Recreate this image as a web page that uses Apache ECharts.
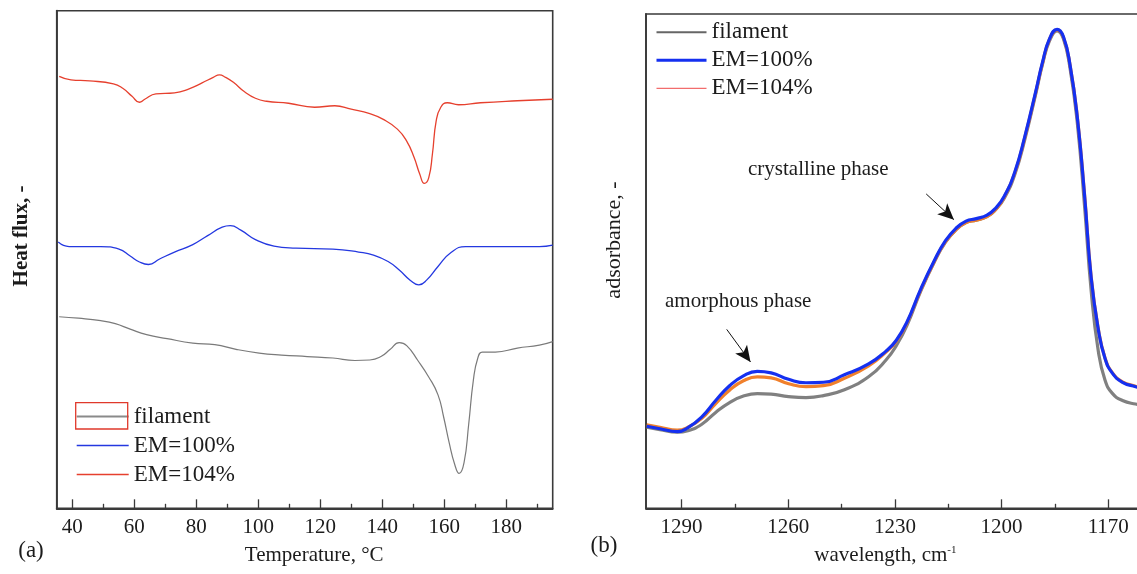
<!DOCTYPE html>
<html><head><meta charset="utf-8">
<script src="https://cdn.jsdelivr.net/npm/echarts@6/dist/echarts.min.js"></script>
<style>html,body{margin:0;padding:0;background:#fff}#c{width:1137px;height:574px}</style>
</head><body><div id="c"></div>
<script>
// ---------- Panel (a): DSC ----------
const dscTempTicks = [40, 60, 80, 100, 120, 140, 160, 180];
const dscTempMinorTicks = [50, 70, 90, 110, 130, 150, 170, 190];

const dscFilamentT = [35.8,42,49.2,53.9,58.7,64,70.6,78.9,86,93.2,100.3,107.5,115.8,124.1,131.2,136,139.6,142.5,145.5,147.9,151.5,155,158,159.8,161.6,163.4,164.8,166.4,167.9,169.4,170.8,172.3,176.5,183.6,190.7,195];
const dscFilamentHF = [38.5,38.2,37.7,37.1,36.0,34.9,34.1,33.2,32.9,31.9,31.2,30.8,30.5,30.2,29.7,29.8,30.5,31.9,33.3,32.7,29.7,26.4,22.8,18.4,13.2,8.8,7.0,9.2,16.9,25.7,30.1,31.4,31.4,32.2,32.8,33.5];

const dscEM100T = [35.5,39,49.2,55.1,58.7,61.7,64.6,68.2,73,78.9,83.7,88.4,91,94.4,99.1,105.1,112.2,124.1,132.4,137.2,141.9,145.5,149.1,151.8,154.4,158,162.2,166.9,177.6,190.7,195];
const dscEM100HF = [53.5,52.6,52.6,52.1,50.7,49.5,49.0,50.1,51.5,53.0,54.8,56.5,56.8,55.9,54.0,52.7,52.3,52.1,51.5,50.9,49.6,47.9,45.8,44.9,45.9,48.6,51.4,52.6,52.6,52.6,52.9];

const dscEM104T = [35.8,39.6,45.6,53.3,56.3,59.3,61.7,63.4,67,73,77.7,81.9,85.5,87.5,89.5,92,95.6,99.1,102.7,109.8,118.2,124.7,130,136,140.2,144.9,147.9,150.3,152.1,153.6,155,156.2,157.4,158.9,161,164.6,171.7,183.6,195];
const dscEM104HF = [86.8,86.1,85.9,85.3,84.4,82.8,81.6,82.2,83.3,83.5,84.3,85.5,86.6,87.1,86.6,85.6,83.7,82.4,81.8,81.4,80.6,80.9,80.2,79.3,78.2,76.2,73.8,70.5,67.2,65.3,66.4,71.2,77.8,80.6,81.5,81.1,81.5,81.9,82.2];

// ---------- Panel (b): FTIR ----------
const ftirTicks = [1170, 1200, 1230, 1260, 1290];
const ftirMinorTicks = [1185, 1215, 1245, 1275];

const ftirWn = [1299.8,1296.1,1291.2,1288.2,1284.3,1280.4,1276.5,1272.6,1268.7,1264.8,1259.9,1255.0,1250.1,1244.2,1237.4,1232.5,1229.6,1226.6,1222.7,1218.8,1215.9,1212.9,1210.0,1207.1,1204.1,1201.7,1199.2,1196.3,1193.4,1190.4,1188.5,1186.5,1184.4,1182.6,1180.7,1178.7,1176.7,1174.8,1172.8,1170.9,1168.9,1166.0,1162.3,1159];
const ftirEM100 = [16.6,16.1,15.5,16.3,18.5,21.8,24.8,26.8,27.7,27.4,26.1,25.4,25.5,27.0,29.2,31.8,34.0,37.7,44.4,50.3,54.0,56.6,58.1,58.6,59.3,60.7,63.2,68.0,75.4,84.3,90.2,95.0,96.9,95.4,89.5,79.1,63.6,46.6,36.2,30.3,27.4,25.5,24.6,24.0];
const ftirEM104 = [16.9,16.4,15.8,16.4,18.2,21.2,23.9,25.8,26.6,26.4,25.2,24.6,24.8,26.3,28.8,31.6,33.8,37.5,44.2,50.1,53.8,56.3,57.8,58.3,59.0,60.4,63.0,67.8,75.2,84.1,90.0,94.9,96.8,95.3,89.5,79.2,63.8,46.8,36.3,30.4,27.5,25.6,24.7,24.1];
const ftirFilament = [16.4,15.9,15.4,15.7,17.0,19.4,21.4,22.7,23.2,23.1,22.6,22.4,22.8,24.0,26.6,30.0,32.9,37.0,44.0,50.0,53.7,56.3,57.8,58.3,59.0,60.4,62.8,67.5,74.8,83.8,89.8,94.6,96.6,95.0,88.8,78.0,61.5,44.0,31.8,25.9,23.3,21.8,21.1,20.8];

const crystallineArrow = [[1221.2, 63.6], [1213.4, 58.4]];
const amorphousArrow = [[1277.3, 36.2], [1270.6, 29.6]];

const pair = (xs, ys) => xs.map((x, i) => [x, ys[i]]);
const FONT = '"Liberation Serif", "Times New Roman", serif';
const AX = '#3a3a3a';
const TXT = '#1c1c1c';

function baseX(gridIndex, min, max, ticks, inverse, name, nameGap, namePad) {
  return {
    type: 'value', gridIndex, min, max, inverse, position: 'bottom',
    name, nameLocation: 'middle', nameGap,
    nameTextStyle: { fontFamily: FONT, fontSize: 21, color: TXT, padding: namePad,
      rich: { sup: { fontFamily: FONT, fontSize: 11, color: TXT, verticalAlign: 'top', padding: [0, 0, 12, 0] } } },
    axisLine: { show: true, lineStyle: { color: AX, width: 1.8 } },
    axisTick: { show: true, inside: true, length: 9, customValues: ticks, lineStyle: { color: AX, width: 1.3 } },
    axisLabel: { show: true, customValues: ticks, margin: 9, fontFamily: FONT, fontSize: 21, color: TXT,
      formatter: v => String(v) },
    splitLine: { show: false }
  };
}
function minorX(gridIndex, min, max, ticks, inverse) {
  return {
    type: 'value', gridIndex, min, max, inverse, position: 'bottom',
    axisLine: { show: false },
    axisTick: { show: true, inside: true, length: 4.5, customValues: ticks, lineStyle: { color: AX, width: 1.3 } },
    axisLabel: { show: false }, splitLine: { show: false }
  };
}
function yAx(gridIndex) {
  return { type: 'value', gridIndex, min: 0, max: 100,
    axisLine: { show: true, lineStyle: { color: AX, width: 1.8 } },
    axisTick: { show: false }, axisLabel: { show: false }, splitLine: { show: false } };
}
function lineSeries(name, data, xi, yi, color, width, z) {
  return { name, type: 'line', xAxisIndex: xi, yAxisIndex: yi, data, symbol: 'none', showSymbol: false,
    smooth: 0.5, z, animation: false, clip: true,
    lineStyle: { color, width }, itemStyle: { color } };
}
function legItem(name, color, width) {
  return { name, lineStyle: { color, width }, itemStyle: { color, opacity: 0, borderWidth: 0 } };
}

const chart = echarts.init(document.getElementById('c'), null, { renderer: 'canvas' });
const option = {
  backgroundColor: '#fff',
  animation: false,
  grid: [
    { left: 56.7, top: 10.7, width: 496, height: 497.6, show: true, borderColor: AX, borderWidth: 1.6,
      containLabel: false, outerBoundsMode: 'none' },
    { left: 646, top: 14, width: 497.8, height: 494.3, show: true, borderColor: AX, borderWidth: 1.6,
      containLabel: false, outerBoundsMode: 'none' }
  ],
  xAxis: [
    baseX(0, 35, 195, dscTempTicks, false, 'Temperature, °C', 37, [0, 0, 0, 19]),
    minorX(0, 35, 195, dscTempMinorTicks, false),
    baseX(1, 1160, 1300, ftirTicks, true, 'wavelength, cm{sup|-1}', 36, [0, 19, 0, 0]),
    minorX(1, 1160, 1300, ftirMinorTicks, true)
  ],
  yAxis: [yAx(0), yAx(1)],
  legend: [
    { orient: 'vertical', left: 75.7, top: 405, padding: 0, itemWidth: 52, itemHeight: 14, itemGap: 6,
      selectedMode: false,
      textStyle: { fontFamily: FONT, fontSize: 23, color: TXT, lineHeight: 23 },
      data: [ legItem('filament', '#8a8a8a', 2), legItem('EM=100%', '#2438e0', 1.6), legItem('EM=104%', '#e6402e', 1.3) ] },
    { orient: 'vertical', left: 655, top: 20.8, padding: 0, itemWidth: 50, itemHeight: 14, itemGap: 5,
      selectedMode: false,
      textStyle: { fontFamily: FONT, fontSize: 23, color: TXT, lineHeight: 23 },
      data: [ legItem('filament', '#666666', 2), legItem('EM=100%', '#1530f0', 3), legItem('EM=104%', '#f26d6d', 1.2) ] }
  ],
  series: [
    lineSeries('filament', pair(dscFilamentT, dscFilamentHF), 0, 0, '#7a7a7a', 1.2, 2),
    lineSeries('EM=100%', pair(dscEM100T, dscEM100HF), 0, 0, '#2438e0', 1.3, 2),
    lineSeries('EM=104%', pair(dscEM104T, dscEM104HF), 0, 0, '#e6402e', 1.3, 2),
    lineSeries('filament', pair(ftirWn, ftirFilament), 2, 1, '#808080', 3.2, 2),
    lineSeries('EM=104%', pair(ftirWn, ftirEM104), 2, 1, '#f0802c', 3.2, 3),
    Object.assign(lineSeries('EM=100%', pair(ftirWn, ftirEM100), 2, 1, '#1530f0', 3.2, 4), {
      markLine: {
        silent: true, animation: false,
        symbol: ['none', 'arrow'], symbolSize: [11, 16],
        label: { show: false },
        lineStyle: { color: '#111', width: 1, type: 'solid' },
        emphasis: { disabled: true },
        data: [
          [{ coord: crystallineArrow[0] }, { coord: crystallineArrow[1] }],
          [{ coord: amorphousArrow[0] }, { coord: amorphousArrow[1] }]
        ]
      }
    })
  ],
  graphic: [
    { type: 'rect', z: 100, shape: { x: 75.7, y: 402.7, width: 52, height: 26.3 },
      style: { fill: 'none', stroke: '#e0392b', lineWidth: 1.3 } },
    { type: 'text', z: 100, x: 22, y: 236, rotation: Math.PI / 2,
      style: { text: 'Heat flux, -', font: 'bold 21px "Liberation Serif"', fill: TXT, align: 'center', verticalAlign: 'middle' } },
    { type: 'text', z: 100, x: 614.4, y: 240, rotation: Math.PI / 2,
      style: { text: 'adsorbance, -', font: '22px "Liberation Serif"', fill: TXT, align: 'center', verticalAlign: 'middle' } },
    { type: 'text', z: 100, x: 31, y: 551,
      style: { text: '(a)', font: '23px "Liberation Serif"', fill: TXT, align: 'center', verticalAlign: 'middle' } },
    { type: 'text', z: 100, x: 604, y: 546,
      style: { text: '(b)', font: '23px "Liberation Serif"', fill: TXT, align: 'center', verticalAlign: 'middle' } },
    { type: 'text', z: 100, x: 748, y: 169,
      style: { text: 'crystalline phase', font: '21px "Liberation Serif"', fill: TXT, align: 'left', verticalAlign: 'middle' } },
    { type: 'text', z: 100, x: 665, y: 301.6,
      style: { text: 'amorphous phase', font: '21px "Liberation Serif"', fill: TXT, align: 'left', verticalAlign: 'middle' } }
  ]
};
chart.setOption(option);
</script>
</body></html>
